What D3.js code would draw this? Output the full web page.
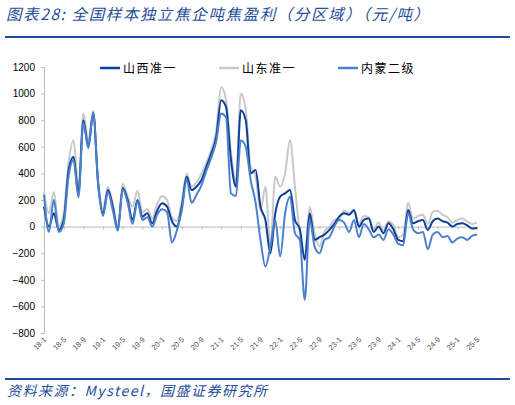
<!DOCTYPE html>
<html><head><meta charset="utf-8">
<script src="https://cdn.jsdelivr.net/npm/d3@7"></script>
<style>body{margin:0;background:#fff}</style>
</head><body>
<script>
const seriesNames = ["山西准一", "山东准一", "内蒙二级"]
const colors = ["#0d3f99", "#c8c8c8", "#4a80cc"]
// monthly values from 2018-01 (index 0) to 2025-05 (index 88)
const shanxi = [150,0,100,-25,50,425,525,250,800,600,850,325,100,275,150,-25,290,200,50,200,75,100,25,120,175,150,40,0,150,375,275,300,350,450,550,675,950,900,500,300,875,800,400,425,150,50,-200,100,225,250,275,50,-20,-250,100,-100,-80,-60,-25,20,75,100,90,125,0,50,60,-40,0,-50,25,-20,-100,-110,125,25,40,50,-25,40,60,40,30,0,20,25,10,-15,-10]
const shandong = [260,100,260,0,100,480,650,300,850,650,870,350,130,300,160,0,320,230,150,270,110,130,60,170,230,200,70,40,190,400,300,330,400,480,580,720,1050,950,560,340,1000,880,450,380,120,300,-150,375,300,400,650,300,-50,-220,150,-50,-150,-40,0,50,60,120,100,110,20,80,70,-20,30,-30,40,10,-80,-60,180,60,80,90,20,110,120,90,70,30,50,60,40,20,30]
const neimeng = [240,-40,200,-40,20,380,500,220,780,590,860,320,80,260,120,-30,280,180,20,190,50,70,0,90,130,110,-120,-30,120,350,180,240,310,420,520,640,850,820,250,230,650,600,350,180,-100,-300,-150,50,-225,100,225,-50,-100,-550,50,-150,-200,-100,-80,0,50,30,-40,50,-80,20,-20,-80,-60,-100,-20,-60,-130,-140,100,-20,-50,-40,-170,-60,-40,-80,-70,-120,-90,-80,-100,-70,-60]
const yTicks = [-800,-600,-400,-200,0,200,400,600,800,1000,1200]
const xLabels = ["18-1","18-5","18-9","19-1","19-5","19-9","20-1","20-5","20-9","21-1","21-5","21-9","22-1","22-5","22-9","23-1","23-5","23-9","24-1","24-5","24-9","25-1","25-5"]

const W = 515, H = 405
const svg = d3.select("body").append("svg").attr("width", W).attr("height", H)
const fontCN = "'Noto Sans CJK SC', sans-serif"

svg.append("text").attr("x", 6).attr("y", 20)
    .attr("fill", "#1f4e9a").attr("font-size", 15.5).attr("font-style", "italic")
    .attr("letter-spacing", 1.6)
    .attr("font-family", fontCN).text("图表28:  全国样本独立焦企吨焦盈利（分区域）（元/吨）")
svg.append("line").attr("x1", 5).attr("x2", 510).attr("y1", 37).attr("y2", 37)
    .attr("stroke", "#1f4e9a").attr("stroke-width", 2)
svg.append("line").attr("x1", 5).attr("x2", 510).attr("y1", 379).attr("y2", 379)
    .attr("stroke", "#1f4e9a").attr("stroke-width", 2)
svg.append("text").attr("x", 7).attr("y", 396)
    .attr("fill", "#1f4e9a").attr("font-size", 14).attr("font-style", "italic")
    .attr("letter-spacing", 1.5)
    .attr("font-family", fontCN).text("资料来源：Mysteel，国盛证券研究所")

const x = d3.scaleLinear().domain([0, 88]).range([44, 477])
const y = d3.scaleLinear().domain([-800, 1200]).range([333, 67])

const yaxis = svg.append("g").attr("transform", "translate(44,0)")
    .call(d3.axisLeft(y).tickValues(yTicks).tickSize(3).tickPadding(6).tickFormat(d3.format("d")))
yaxis.selectAll("text").attr("font-size", 10).attr("font-family", "Arial, 'Liberation Sans'").attr("fill", "#000")
yaxis.selectAll("line,path").attr("stroke", "#bbb")

const xaxis = svg.append("g").attr("transform", `translate(0,${y(0)})`)
    .call(d3.axisBottom(x).tickValues(d3.range(0, 89, 4)).tickSize(3).tickFormat(""))
xaxis.selectAll("line,path").attr("stroke", "#bbb")

svg.selectAll(".xl").data(xLabels).enter().append("text")
    .attr("transform", (d, i) => `translate(${x(i * 4) + 3},${340}) rotate(-45)`)
    .attr("text-anchor", "end").attr("font-size", 7.5).attr("fill", "#555")
    .attr("font-family", "Arial, 'Liberation Sans'").text(d => d)

const line = d3.line().x((d, i) => x(i)).y(d => y(d)).curve(d3.curveMonotoneX)
const data = [shanxi, shandong, neimeng]
;[1, 0, 2].forEach(k => {
    svg.append("path").datum(data[k]).attr("d", line)
        .attr("fill", "none").attr("stroke", colors[k]).attr("stroke-width", 2)
})

const legX = [100, 219, 338]
seriesNames.forEach((n, i) => {
    svg.append("line").attr("x1", legX[i]).attr("x2", legX[i] + 20).attr("y1", 68).attr("y2", 68)
        .attr("stroke", colors[i]).attr("stroke-width", 2.5)
    svg.append("text").attr("x", legX[i] + 23).attr("y", 72.5).attr("font-size", 12)
        .attr("letter-spacing", 1.5)
        .attr("font-family", fontCN).text(n)
})
</script>
</body></html>
